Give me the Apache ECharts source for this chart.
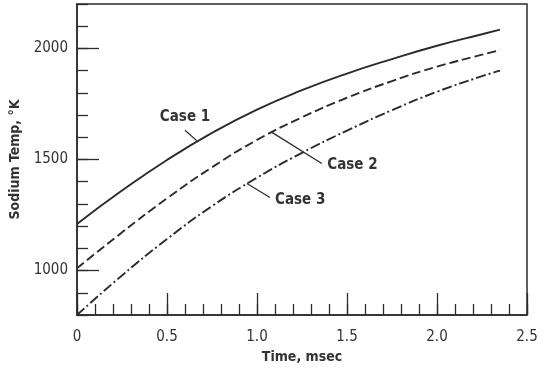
<!DOCTYPE html>
<html>
<head>
<meta charset="utf-8">
<script src="https://cdn.jsdelivr.net/npm/echarts@6/dist/echarts.min.js"></script>
<style>
  html, body { margin: 0; padding: 0; background: #fff; }
  #chart { width: 545px; height: 375px; }
</style>
</head>
<body>
<div id="chart"></div>
<script>
// Time (msec) at which each temperature is read
const timeMs = [0, 0.25, 0.5, 0.75, 1.0, 1.25, 1.5, 1.75, 2.0, 2.25, 2.35];
// Sodium temperature, °K
const case1 = [1210, 1360, 1498, 1620, 1725, 1812, 1887, 1952, 2012, 2064, 2085];
const case2 = [1010, 1172, 1325, 1465, 1588, 1690, 1778, 1853, 1918, 1972, 1992];
const case3 = [800, 978, 1142, 1290, 1418, 1530, 1630, 1722, 1805, 1875, 1900];

const xTickLabels = ['0', '0.5', '1.0', '1.5', '2.0', '2.5'];
const yLabelValues = [1000, 1500, 2000];

// Curve labels with leader lines, in data units: [text position, leader start, leader end]
const caseNotes = [
  { text: 'Case 1', at: [0.60, 1690], from: [0.60, 1632], to: [0.665, 1585] },
  { text: 'Case 2', at: [1.53, 1473], from: [1.36, 1482], to: [1.083, 1622] },
  { text: 'Case 3', at: [1.24, 1315], from: [1.072, 1329], to: [0.944, 1392] }
];

const ink = '#2b2b2b';
const font = '"DejaVu Sans Condensed", "DejaVu Sans", sans-serif';

function pairs(ys) { return timeMs.map((t, i) => [t, ys[i]]); }

const chart = echarts.init(document.getElementById('chart'), null, { renderer: 'canvas' });

const lineBase = { type: 'line', showSymbol: false, smooth: 0.5, silent: true };
const tickStyle = { color: ink, width: 1.3 };

chart.setOption({
  animation: false,
  backgroundColor: '#fff',
  grid: { left: 77, right: 18, top: 4, bottom: 60, show: true, borderColor: ink, borderWidth: 1.5 },
  xAxis: [
    {
      type: 'value', min: 0, max: 2.5, interval: 0.5,
      name: 'Time, msec', nameLocation: 'middle', nameGap: 34,
      nameTextStyle: { fontFamily: font, fontSize: 14, fontWeight: 'bold', color: '#333' },
      axisLine: { show: true, lineStyle: { color: ink, width: 1.5 } },
      axisTick: { show: true, inside: true, length: 22, lineStyle: tickStyle },
      splitLine: { show: false },
      axisLabel: {
        margin: 15, fontFamily: font, fontSize: 15, color: '#333',
        formatter: v => xTickLabels[Math.round(v / 0.5)]
      }
    },
    {
      // short ticks every 0.1 msec
      type: 'value', min: 0, max: 2.5, interval: 0.1, position: 'bottom',
      axisLine: { show: false },
      axisTick: { show: true, inside: true, length: 11, lineStyle: tickStyle },
      axisLabel: { show: false },
      splitLine: { show: false }
    }
  ],
  yAxis: [
    {
      type: 'value', min: 800, max: 2200, interval: 100,
      name: 'Sodium Temp, °K', nameLocation: 'middle', nameGap: 50, nameRotate: 90,
      nameTextStyle: { fontFamily: font, fontSize: 14, fontWeight: 'bold', color: '#333' },
      axisLine: { show: true, lineStyle: { color: ink, width: 1.5 } },
      axisTick: { show: true, inside: true, length: 11, lineStyle: tickStyle },
      splitLine: { show: false },
      axisLabel: {
        margin: 9, fontFamily: font, fontSize: 15, color: '#333',
        customValues: yLabelValues, formatter: v => String(v)
      }
    },
    {
      type: 'value', min: 800, max: 2200, position: 'left',
      axisLine: { show: false },
      axisTick: { show: true, inside: true, length: 22, customValues: yLabelValues, lineStyle: tickStyle },
      axisLabel: { show: false },
      splitLine: { show: false }
    }
  ],
  series: [
    Object.assign({}, lineBase, { name: 'Case 1', data: pairs(case1),
      lineStyle: { color: ink, width: 1.9, type: 'solid' } }),
    Object.assign({}, lineBase, { name: 'Case 2', data: pairs(case2),
      lineStyle: { color: ink, width: 1.9, type: [9, 4] } }),
    Object.assign({}, lineBase, { name: 'Case 3', data: pairs(case3),
      lineStyle: { color: ink, width: 1.9, type: [10, 3, 2, 3] } })
  ]
});

// Place the curve labels and their leader lines through the axis scales
const px = p => chart.convertToPixel({ xAxisIndex: 0, yAxisIndex: 0 }, p);
const graphics = [];
caseNotes.forEach(n => {
  const a = px(n.at), f = px(n.from), t = px(n.to);
  graphics.push({
    type: 'text', x: a[0], y: a[1], silent: true,
    style: { text: n.text, fill: '#333', font: 'bold 15px ' + font, align: 'center', verticalAlign: 'middle' }
  });
  graphics.push({
    type: 'line', silent: true,
    shape: { x1: f[0], y1: f[1], x2: t[0], y2: t[1] },
    style: { stroke: ink, lineWidth: 1.3 }
  });
});
chart.setOption({ graphic: graphics });
</script>
</body>
</html>
